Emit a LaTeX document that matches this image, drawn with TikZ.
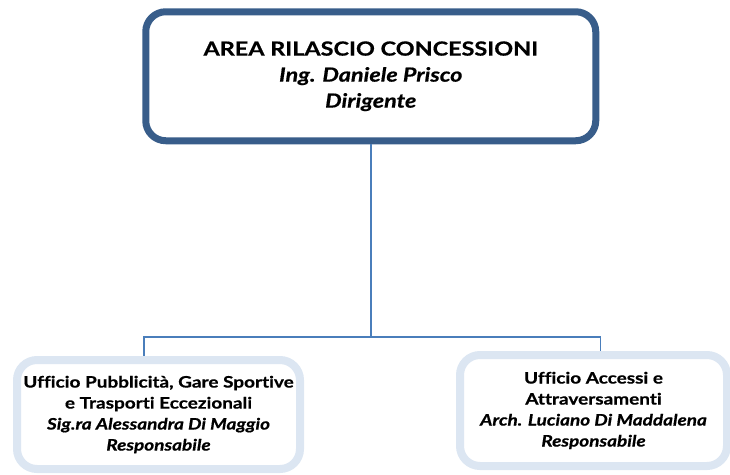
\documentclass[tikz,border=0pt]{standalone}
\usepackage{fontspec}
\setmainfont{Lato}[FakeStretch=1.2,Ligatures=NoCommon,BoldFeatures={FakeBold=0.6},BoldItalicFeatures={FakeBold=0.6}]
\usepackage{tikz}
\definecolor{darkframe}{HTML}{385D8A}
\definecolor{lightframe}{HTML}{DCE6F2}
\definecolor{linkblue}{HTML}{4A7EBB}

\begin{document}
\begin{tikzpicture}[x=1pt,y=1pt]
    \tikzstyle{headbox}=[draw=darkframe,line width=7pt,rounded corners=20pt,fill=white,align=center,minimum width=450pt,minimum height=129pt,font=\fontsize{19.5}{26}\selectfont\bfseries];
    \tikzstyle{officebox}=[draw=lightframe,line width=8pt,rounded corners=20pt,fill=white,align=center,font=\fontsize{15.8}{21}\selectfont\bfseries];
    \tikzstyle{link}=[draw=linkblue,line width=1.6pt];
    \useasboundingbox (0,0) rectangle (730,-474);
    \node[headbox] (area) at (370.75,-76.25) {AREA RILASCIO CONCESSIONI\\ \textit{Ing. Daniele Prisco}\\ \textit{Dirigente}};
    \node[officebox,minimum width=283pt,minimum height=109pt] (pubblicita) at (158.5,-414.5) {Ufficio Pubblicità, Gare Sportive\\ e Trasporti Eccezionali\\ \textit{Sig.ra Alessandra Di Maggio}\\ \textit{Responsabile}};
    \node[officebox,minimum width=267pt,minimum height=111pt] (accessi) at (593.5,-410.5) {Ufficio Accessi e\\ Attraversamenti\\ \textit{Arch. Luciano Di Maddalena}\\ \textit{Responsabile}};
    \coordinate (bus) at (370.75,-337);
    \draw[link] (area.south) -- (bus);
    \draw[link] (bus) -| ([xshift=-14.5pt]pubblicita.north);
    \draw[link] (bus) -| ([xshift=7pt]accessi.north);
  \end{tikzpicture}
\end{document}
